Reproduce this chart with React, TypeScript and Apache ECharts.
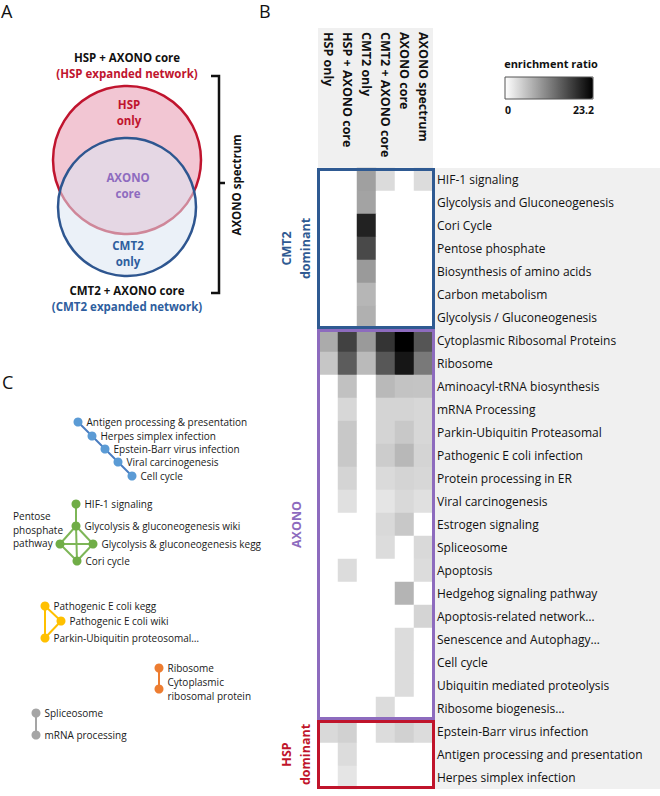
import React, { useEffect, useRef } from "react";
import * as echarts from "echarts";

const FONT = '"Open Sans", "Noto Sans", sans-serif';

// ---------- Panel B data ----------
const columns = ["HSP only", "HSP + AXONO core", "CMT2 only", "CMT2 + AXONO core", "AXONO core", "AXONO spectrum"];

const pathways = [
  "HIF-1 signaling",
  "Glycolysis and Gluconeogenesis",
  "Cori Cycle",
  "Pentose phosphate",
  "Biosynthesis of amino acids",
  "Carbon metabolism",
  "Glycolysis / Gluconeogenesis",
  "Cytoplasmic Ribosomal Proteins",
  "Ribosome",
  "Aminoacyl-tRNA biosynthesis",
  "mRNA Processing",
  "Parkin-Ubiquitin Proteasomal",
  "Pathogenic E coli infection",
  "Protein processing in ER",
  "Viral carcinogenesis",
  "Estrogen signaling",
  "Spliceosome",
  "Apoptosis",
  "Hedgehog signaling pathway",
  "Apoptosis-related network…",
  "Senescence and Autophagy…",
  "Cell cycle",
  "Ubiquitin mediated proteolysis",
  "Ribosome biogenesis…",
  "Epstein-Barr virus infection",
  "Antigen processing and presentation",
  "Herpes simplex infection",
];

// enrichment ratio per pathway (rows) x column
const enrichment: number[][] = [
  [0, 0, 8.6, 3.3, 0, 3.2],
  [0, 0, 8.4, 0, 0, 0],
  [0, 0, 20.1, 0, 0, 0],
  [0, 0, 16.6, 0, 0, 0],
  [0, 0, 9.2, 0, 0, 0],
  [0, 0, 6.6, 0, 0, 0],
  [0, 0, 7.2, 0, 0, 0],
  [7.6, 17.3, 9.2, 18.5, 23.2, 15.5],
  [5.2, 14.8, 6.3, 15.3, 21.2, 12.2],
  [0, 5.6, 0, 6.4, 5.5, 5.4],
  [0, 3.6, 0, 3.9, 3.9, 3.6],
  [0, 5.0, 0, 3.9, 5.0, 3.6],
  [0, 5.0, 0, 4.6, 6.5, 3.9],
  [0, 3.9, 0, 3.4, 3.9, 3.6],
  [0, 2.8, 0, 2.4, 3.5, 2.8],
  [0, 0, 0, 3.5, 5.0, 0],
  [0, 0, 0, 3.2, 0, 3.5],
  [0, 3.2, 0, 0, 0, 3.2],
  [0, 0, 0, 0, 6.8, 0],
  [0, 0, 0, 0, 0, 3.9],
  [0, 0, 0, 0, 3.2, 0],
  [0, 0, 0, 0, 3.2, 0],
  [0, 0, 0, 0, 3.2, 0],
  [0, 0, 0, 3.2, 0, 0],
  [3.5, 4.2, 0, 3.2, 4.2, 3.2],
  [0, 3.2, 0, 0, 0, 0],
  [0, 2.4, 0, 0, 0, 0],
];

const scaleMin = 0;
const scaleMax = 23.2;

const groupLabels = ["CMT2\ndominant", "AXONO", "HSP\ndominant"];
const groupFirstRow = [0, 7, 24];
const groupLastRow = [6, 23, 26];

// ---------- Panel C data ----------
const networkNodes = [
  "Antigen processing & presentation",
  "Herpes simplex infection",
  "Epstein-Barr virus infection",
  "Viral carcinogenesis",
  "Cell cycle",
  "HIF-1 signaling",
  "Glycolysis & gluconeogenesis wiki",
  "Pentose\nphosphate\npathway",
  "Glycolysis & gluconeogenesis kegg",
  "Cori cycle",
  "Pathogenic E coli kegg",
  "Pathogenic E coli wiki",
  "Parkin-Ubiquitin proteosomal…",
  "Ribosome",
  "Cytoplasmic\nribosomal protein",
  "Spliceosome",
  "mRNA processing",
];
const networkCluster = [0, 0, 0, 0, 0, 1, 1, 1, 1, 1, 2, 2, 2, 3, 3, 4, 4];
const networkLinks: [number, number][] = [
  [0, 1], [1, 2], [2, 3], [3, 4],
  [5, 6], [6, 7], [6, 8], [6, 9], [7, 8], [7, 9], [8, 9],
  [10, 11], [11, 12], [10, 12],
  [13, 14],
  [15, 16],
];
// node layout of the network drawing (page coordinates)
const nodeLayout: [number, number][] = [
  [78, 422], [92, 436], [105, 449], [118, 462], [132, 476],
  [76, 504], [76, 526], [60, 544], [93, 544], [77, 561],
  [45, 606], [61, 621], [45, 638],
  [159, 668], [159, 689],
  [36, 713], [36, 735],
];

const NODE_COLORS = ["#5B9BD5", "#70AD47", "#FFC000", "#ED7D31", "#A5A5A5"];
const EDGE_COLORS = ["#4A7CC0", "#7DB657", "#FFC000", "#ED7D31", "#A5A5A5"];
const GROUP_COLORS = ["#2F5A92", "#8D6BBE", "#C0142B"];

function txt(x: number, y: number, text: string, size: number, color: string, opts: any = {}) {
  return {
    type: "text",
    x,
    y,
    rotation: opts.rotation || 0,
    z: 50,
    silent: true,
    style: {
      text,
      fill: color,
      fontSize: size,
      fontWeight: opts.weight || "normal",
      fontFamily: FONT,
      align: opts.align || "center",
      verticalAlign: opts.vAlign || "middle",
      textAlign: opts.align || "center",
      textVerticalAlign: opts.vAlign || "middle",
      lineHeight: opts.lineHeight,
    },
  };
}

export default function App() {
  const ref = useRef<HTMLDivElement>(null);

  useEffect(() => {
    document.body.style.margin = "0";
    if (!ref.current) return;
    const chart = echarts.init(ref.current, undefined, { renderer: "svg" });

    const heatData: [number, number, number][] = [];
    enrichment.forEach((row, i) => row.forEach((v, j) => heatData.push([j, i, v])));

    const option: any = {
      animation: false,
      textStyle: { fontFamily: FONT },
      grid: [
        { left: 319, top: 168, width: 114, height: 621, containLabel: false, outerBoundsMode: "none" },
        { left: 0, top: 0, width: 660, height: 796, containLabel: false, outerBoundsMode: "none" },
      ],
      xAxis: [
        {
          type: "category",
          gridIndex: 0,
          position: "top",
          data: columns,
          axisLine: { show: false },
          axisTick: { show: false },
          splitLine: { show: false },
          axisLabel: { show: false },
        },
        { type: "value", gridIndex: 1, min: 0, max: 660, show: false },
      ],
      yAxis: [
        {
          type: "category",
          gridIndex: 0,
          position: "right",
          inverse: true,
          data: pathways,
          axisLine: { show: false },
          axisTick: { show: false },
          splitLine: { show: false },
          axisLabel: { interval: 0, align: "left", margin: 4, fontSize: 12, color: "#111", fontFamily: FONT },
        },
        { type: "value", gridIndex: 1, min: 0, max: 796, inverse: true, show: false },
      ],
      visualMap: {
        type: "continuous",
        seriesIndex: 0,
        min: scaleMin,
        max: scaleMax,
        orient: "horizontal",
        left: 505,
        top: 77,
        itemWidth: 22,
        itemHeight: 88,
        padding: 0,
        calculable: false,
        realtime: false,
        hoverLink: false,
        inRange: { color: ["#ffffff", "#000000"] },
        textStyle: { fontSize: 0 },
      },
      series: [
        {
          type: "heatmap",
          xAxisIndex: 0,
          yAxisIndex: 0,
          data: heatData,
          itemStyle: { borderWidth: 0 },
          emphasis: { disabled: true },
          silent: true,
          z: 2,
        },
        {
          type: "graph",
          coordinateSystem: "cartesian2d",
          xAxisIndex: 1,
          yAxisIndex: 1,
          symbolSize: 9,
          silent: true,
          emphasis: { disabled: true },
          z: 3,
          lineStyle: { width: 2, opacity: 1, curveness: 0 },
          label: {
            show: true,
            position: "right",
            distance: 4,
            fontSize: 10,
            lineHeight: 13.5,
            color: "#1a1a1a",
            fontFamily: FONT,
          },
          data: networkNodes.map((name, i) => {
            const item: any = {
              name,
              value: nodeLayout[i],
              itemStyle: { color: NODE_COLORS[networkCluster[i]] },
            };
            if (name.startsWith("Pentose")) {
              item.label = { position: [-42.5, -30], align: "left", verticalAlign: "top", fontSize: 10, lineHeight: 13.5 };
            }
            return item;
          }),
          links: networkLinks.map(([s, t]) => ({
            source: s,
            target: t,
            lineStyle: { color: EDGE_COLORS[networkCluster[s]] },
          })),
        },
      ],
    };
    chart.setOption(option);

    // geometry from the heatmap's scales
    const px = (c: number, r: number) =>
      chart.convertToPixel({ xAxisIndex: 0, yAxisIndex: 0 } as any, [columns[c], pathways[r]]) as number[];
    const a = px(0, 0);
    const b = px(1, 1);
    const cw = b[0] - a[0];
    const ch = b[1] - a[1];
    const left = a[0] - cw / 2;
    const right = px(columns.length - 1, 0)[0] + cw / 2;
    const top = a[1] - ch / 2;
    const bottom = px(0, pathways.length - 1)[1] + ch / 2;

    const g: any[] = [];
    // grey backgrounds
    g.push({ type: "rect", z: -10, silent: true, shape: { x: left - 1, y: 28, width: right - left + 1, height: top - 28 }, style: { fill: "#F0F0F0" } });
    g.push({ type: "rect", z: -10, silent: true, shape: { x: right, y: top, width: 660 - right, height: bottom - top }, style: { fill: "#F0F0F0" } });

    // column headers (read top to bottom)
    columns.forEach((c, j) => {
      const x = px(j, 0)[0];
      g.push(txt(x, 32, c, 12.5, "#111", { weight: "bold", rotation: -Math.PI / 2, align: "left" }));
    });

    // group boxes + labels
    groupLabels.forEach((lab, k) => {
      const y0 = px(0, groupFirstRow[k])[1] - ch / 2;
      const y1 = px(0, groupLastRow[k])[1] + ch / 2;
      g.push({
        type: "rect",
        z: 60,
        silent: true,
        shape: { x: left - 0.5, y: y0 + 1.5, width: right - left + 1, height: y1 - y0 - 3 },
        style: { fill: null, stroke: GROUP_COLORS[k], lineWidth: 3 },
      });
      g.push(txt(left - 23, (y0 + y1) / 2, lab, 12.5, GROUP_COLORS[k], { weight: "bold", rotation: Math.PI / 2, lineHeight: 19 }));
    });

    // panel letters
    g.push(txt(1, 1, "A", 18, "#111", { align: "left", vAlign: "top", lineHeight: 20 }));
    g.push(txt(259, 1, "B", 18, "#111", { align: "left", vAlign: "top", lineHeight: 20 }));
    g.push(txt(2, 372, "C", 18, "#111", { align: "left", vAlign: "top", lineHeight: 20 }));

    // Venn diagram
    g.push({ type: "circle", z: 10, silent: true, shape: { cx: 127, cy: 160, r: 74 }, style: { fill: "#F2C6D3", stroke: "#C0142E", lineWidth: 2.5 } });
    g.push({ type: "circle", z: 11, silent: true, shape: { cx: 127, cy: 207, r: 69 }, style: { fill: "rgba(219,229,243,0.55)", stroke: "#2E5690", lineWidth: 2.5 } });
    g.push(txt(127, 57, "HSP + AXONO core", 11.5, "#111", { weight: "bold" }));
    g.push(txt(127, 73, "(HSP expanded network)", 11.5, "#C0142E", { weight: "bold" }));
    g.push(txt(129, 112, "HSP\nonly", 11.5, "#C0142E", { weight: "bold", lineHeight: 16 }));
    g.push(txt(128, 185, "AXONO\ncore", 11.5, "#8E6BBF", { weight: "bold", lineHeight: 16 }));
    g.push(txt(128, 253, "CMT2\nonly", 11.5, "#2E5E9E", { weight: "bold", lineHeight: 16 }));
    g.push(txt(127, 290, "CMT2 + AXONO core", 11.5, "#111", { weight: "bold" }));
    g.push(txt(127, 306, "(CMT2 expanded network)", 11.5, "#2E5E9E", { weight: "bold" }));
    // bracket
    g.push({
      type: "polyline",
      z: 12,
      silent: true,
      shape: { points: [[211, 76], [219, 76], [219, 293], [211, 293]] },
      style: { fill: null, stroke: "#111", lineWidth: 2.5 },
    });
    g.push({ type: "line", z: 12, silent: true, shape: { x1: 219, y1: 183, x2: 225, y2: 183 }, style: { stroke: "#111", lineWidth: 2.5 } });
    g.push(txt(236, 185, "AXONO spectrum", 11.5, "#111", { weight: "bold", rotation: Math.PI / 2 }));

    // legend
    g.push(txt(551, 63, "enrichment ratio", 11, "#111", { weight: "bold" }));
    g.push({ type: "rect", z: 60, silent: true, shape: { x: 505, y: 77, width: 88, height: 22 }, style: { fill: null, stroke: "#555", lineWidth: 1 } });
    g.push(txt(505, 110, String(scaleMin), 10.5, "#111", { weight: "bold", align: "left" }));
    g.push(txt(594, 110, String(scaleMax), 10.5, "#111", { weight: "bold", align: "right" }));

    chart.setOption({ graphic: g });

    return () => chart.dispose();
  }, []);

  return <div ref={ref} style={{ width: 660, height: 796, position: "absolute", left: 0, top: 0 }} />;
}
